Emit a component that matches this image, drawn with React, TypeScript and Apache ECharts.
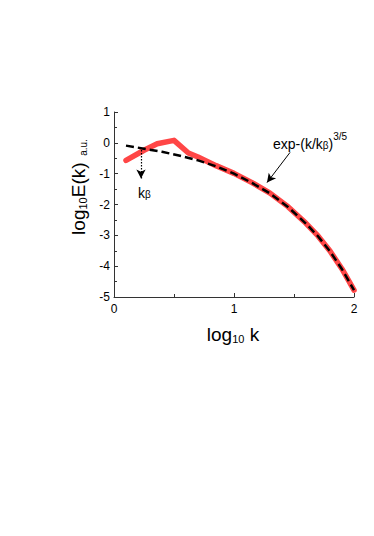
import React, { useEffect, useRef } from "react";
import * as echarts from "echarts";

const measuredSpectrum: [number, number][] = [
  [0.1, -0.57], [0.25, -0.24], [0.36, -0.03], [0.5, 0.08], [0.62, -0.33],
  [0.7, -0.46], [0.85, -0.74], [1.0, -0.99], [1.15, -1.29], [1.3, -1.63],
  [1.45, -2.07], [1.6, -2.61], [1.7, -3.02], [1.8, -3.51], [1.9, -4.09],
  [2.0, -4.78],
];

const stretchedExpFit: [number, number][] = [
  [0.1, -0.09], [0.25, -0.19], [0.4, -0.29], [0.55, -0.42], [0.7, -0.57],
  [0.85, -0.76], [1.0, -1.0], [1.15, -1.3], [1.3, -1.64], [1.45, -2.08],
  [1.6, -2.62], [1.7, -3.03], [1.8, -3.52], [1.9, -4.1], [2.0, -4.78],
];

const fitArrow: [number, number][] = [[1.467, -0.31], [1.275, -1.29]];
const kBetaArrow: [number, number][] = [[0.225, -0.23], [0.225, -1.16]];

const xRange = [0, 2];
const yRange = [-5, 1];

const FONT = "Liberation Sans, Arial, sans-serif";

export default function App() {
  const ref = useRef<HTMLDivElement>(null);
  useEffect(() => {
    if (!ref.current) return;
    const chart = echarts.init(ref.current, undefined, { renderer: "svg" });
    const axisCommon = {
      axisLine: { show: true, onZero: false, lineStyle: { color: "#333", width: 1 } },
      axisTick: { show: true, inside: true, length: 4, lineStyle: { color: "#333" } },
      minorTick: { show: true, splitNumber: 2, length: 3, lineStyle: { color: "#333" } },
      splitLine: { show: false },
    };
    chart.setOption({
      animation: false,
      backgroundColor: "#fff",
      textStyle: { fontFamily: FONT },
      grid: { left: 114, right: 20, top: 112, bottom: 239, containLabel: false },
      xAxis: {
        type: "value",
        min: xRange[0],
        max: xRange[1],
        interval: 1,
        ...axisCommon,
        axisLabel: { color: "#000", fontSize: 12, margin: 6, fontFamily: FONT },
      },
      yAxis: {
        type: "value",
        min: yRange[0],
        max: yRange[1],
        interval: 1,
        ...axisCommon,
        axisLabel: { color: "#000", fontSize: 12, margin: 4, fontFamily: FONT },
      },
      series: [
        {
          type: "line",
          data: measuredSpectrum,
          showSymbol: false,
          lineStyle: { color: "#ff4646", width: 5.5, cap: "round", join: "round" },
          z: 2,
        },
        {
          type: "line",
          data: stretchedExpFit,
          showSymbol: false,
          lineStyle: { color: "#000", width: 2.5, type: [8, 4] },
          z: 3,
          markLine: {
            silent: true,
            animation: false,
            symbol: ["none", "arrow"],
            symbolSize: [7, 9],
            label: { show: false },
            data: [
              [
                { coord: fitArrow[0], lineStyle: { color: "#000", width: 1, type: "solid" } },
                { coord: fitArrow[1] },
              ],
              [
                { coord: kBetaArrow[0], lineStyle: { color: "#000", width: 1.2, type: [1.5, 1.5] } },
                { coord: kBetaArrow[1] },
              ],
            ],
          },
        },
      ],
      graphic: [
        {
          type: "text",
          x: 77,
          y: 187,
          rotation: Math.PI / 2,
          style: {
            text: "{a|log}{s|10}{a|E(k)}  {u|a.u.}",
            align: "center",
            verticalAlign: "middle",
            fill: "#000",
            rich: {
              a: { fontSize: 19, lineHeight: 22, verticalAlign: "bottom", fontFamily: FONT, fill: "#000" },
              s: { fontSize: 11, lineHeight: 11, verticalAlign: "bottom", fontFamily: FONT, fill: "#000" },
              u: { fontSize: 10, lineHeight: 14, verticalAlign: "bottom", fontFamily: FONT, fill: "#000" },
            },
          },
        },
        {
          type: "text",
          x: 233,
          y: 333,
          style: {
            text: "{a|log}{s|10}{a| k}",
            align: "center",
            verticalAlign: "middle",
            fill: "#000",
            rich: {
              a: { fontSize: 19, lineHeight: 22, verticalAlign: "bottom", fontFamily: FONT, fill: "#000" },
              s: { fontSize: 11, lineHeight: 11, verticalAlign: "bottom", fontFamily: FONT, fill: "#000" },
            },
          },
        },
        {
          type: "text",
          x: 273,
          y: 141,
          style: {
            text: "{a|exp-(k/k}{b|β}{a|)}{p|3/5}",
            align: "left",
            verticalAlign: "middle",
            fill: "#000",
            rich: {
              a: { fontSize: 14, lineHeight: 19, verticalAlign: "bottom", fontFamily: FONT, fill: "#000" },
              b: { fontSize: 10, lineHeight: 10, verticalAlign: "bottom", fontFamily: FONT, fill: "#000" },
              p: { fontSize: 10, lineHeight: 13, verticalAlign: "top", fontFamily: FONT, fill: "#000" },
            },
          },
        },
        {
          type: "text",
          x: 138,
          y: 190,
          style: {
            text: "{a|k}{b|β}",
            align: "left",
            verticalAlign: "middle",
            fill: "#000",
            rich: {
              a: { fontSize: 14, lineHeight: 19, verticalAlign: "bottom", fontFamily: FONT, fill: "#000" },
              b: { fontSize: 10, lineHeight: 10, verticalAlign: "bottom", fontFamily: FONT, fill: "#000" },
            },
          },
        },
      ],
    });
    return () => chart.dispose();
  }, []);
  return <div ref={ref} style={{ width: 374, height: 536, position: "absolute", left: 0, top: 0 }} />;
}
